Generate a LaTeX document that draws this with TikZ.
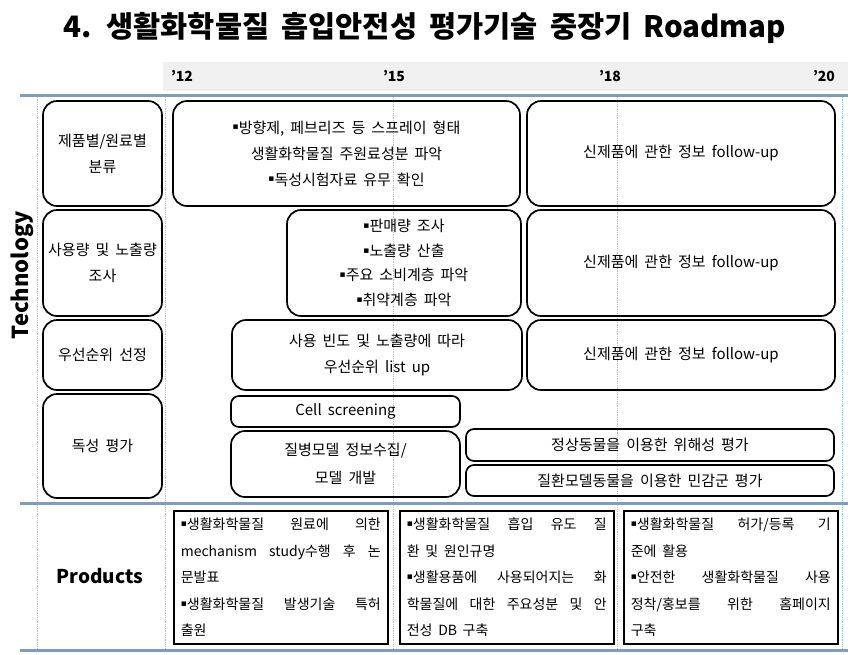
\documentclass[tikz,border=0pt]{standalone}
\usepackage{fontspec}
\setmainfont{Noto Sans CJK KR}[WordSpace=1.8]
\newfontfamily\bulfont{DejaVu Sans}
\newcommand\bul{\raisebox{0.22em}{\bulfont\fontsize{9}{9}\selectfont ▪}}
\definecolor{rulecol}{RGB}{127,157,185}
\definecolor{gridcol}{RGB}{150,210,215}

\begin{document}
\begin{tikzpicture}[x=1pt, y=-1pt,
  rulestyle/.style={line width=3pt, draw=rulecol},
  gridline/.style={draw=gridcol, densely dotted, line width=0.8pt},
  rbox/.style={draw, line width=1.7pt, rounded corners=14pt, align=center, inner sep=1pt, font=\fontsize{15}{26}\selectfont},
  sbox/.style={rbox, rounded corners=8pt},
  pbox/.style={draw, line width=1.7pt, anchor=north west, align=justify, text width=200pt, inner xsep=7pt, inner ysep=0pt, minimum height=133pt, font=\fontsize{14}{26.5}\selectfont},
  yearlab/.style={font=\bfseries\fontsize{14}{14}\selectfont}]
\useasboundingbox (0,0) rectangle (848,654);

% title
\node[font=\bfseries\fontsize{29.5}{30}\selectfont] (title) at (425,28) {4. 생활화학물질 흡입안전성 평가기술 중장기 Roadmap};

% time axis
\fill[gray!12] (163,62) rectangle (848,91);
\node[yearlab] (y12) at (182,76) {'12};
\node[yearlab] (y15) at (394,76) {'15};
\node[yearlab] (y18) at (610,76) {'18};
\node[yearlab] (y20) at (824,76) {'20};

% grid
\foreach \gx in {37,165,393,617,842}
  \draw[gridline] (\gx,95) -- (\gx,650);
\draw[rulestyle] (20,95) -- (848,95);
\draw[rulestyle] (20,503) -- (848,503);
\draw[rulestyle] (20,650) -- (848,650);

% technology rows
\node[rotate=90, font=\bfseries\fontsize{22}{22}\selectfont] (tech) at (22,275) {Technology};

\node[rbox, minimum width=119pt, minimum height=105pt] (cls) at (102.5,153.5) {제품별/원료별\\분류};
\node[rbox, minimum width=119pt, minimum height=106pt] (use) at (102.5,263) {사용량 및 노출량\\조사};
\node[rbox, minimum width=119pt, minimum height=70pt] (prio) at (102.5,355) {우선순위 선정};
\node[rbox, minimum width=119pt, minimum height=104pt] (tox) at (102.5,446) {독성 평가};

\node[rbox, minimum width=347pt, minimum height=105pt] (cls1) at (346.5,153.5)
  {\bul 방향제, 페브리즈 등 스프레이 형태\\생활화학물질 주원료성분 파악\\\bul 독성시험자료 유무 확인};
\node[rbox, minimum width=308pt, minimum height=105pt] (cls2) at (681,153.5) {신제품에 관한 정보 follow-up};

\node[rbox, minimum width=234pt, minimum height=106pt, font=\fontsize{15}{24.5}\selectfont] (use1) at (404,263)
  {\bul 판매량 조사\\\bul 노출량 산출\\\bul 주요 소비계층 파악\\\bul 취약계층 파악};
\node[rbox, minimum width=308pt, minimum height=106pt] (use2) at (681,263) {신제품에 관한 정보 follow-up};

\node[rbox, minimum width=290pt, minimum height=70pt] (prio1) at (377,355) {사용 빈도 및 노출량에 따라\\우선순위 list up};
\node[rbox, minimum width=308pt, minimum height=70pt] (prio2) at (681,355) {신제품에 관한 정보 follow-up};

\node[sbox, minimum width=229pt, minimum height=31pt] (cell) at (345.5,411.5) {Cell screening};
\node[rbox, minimum width=229pt, minimum height=66pt, font=\fontsize{15}{28}\selectfont] (model) at (345.5,464) {질병모델 정보수집/\\모델 개발};
\node[sbox, minimum width=368pt, minimum height=32pt] (normal) at (650,445) {정상동물을 이용한 위해성 평가};
\node[sbox, minimum width=368pt, minimum height=31pt] (sens) at (650,480.5) {질환모델동물을 이용한 민감군 평가};

% products
\node[font=\bfseries\fontsize{19}{19}\selectfont] (prod) at (100,576) {Products};

\node[pbox] (prod1) at (173,510)
  {\bul 생활화학물질 원료에 의한\linebreak mechanism study수행 후 논\linebreak 문발표\newline
   \bul 생활화학물질 발생기술 특허\linebreak 출원};
\node[pbox] (prod2) at (399,510)
  {\bul 생활화학물질 흡입 유도 질\linebreak 환 및 원인규명\newline
   \bul 생활용품에 사용되어지는 화\linebreak 학물질에 대한 주요성분 및 안\linebreak 전성 DB 구축};
\node[pbox] (prod3) at (623,510)
  {\bul 생활화학물질 허가/등록 기\linebreak 준에 활용\newline
   \bul 안전한 생활화학물질 사용\linebreak 정착/홍보를 위한 홈페이지\linebreak 구축};
\end{tikzpicture}
\end{document}
